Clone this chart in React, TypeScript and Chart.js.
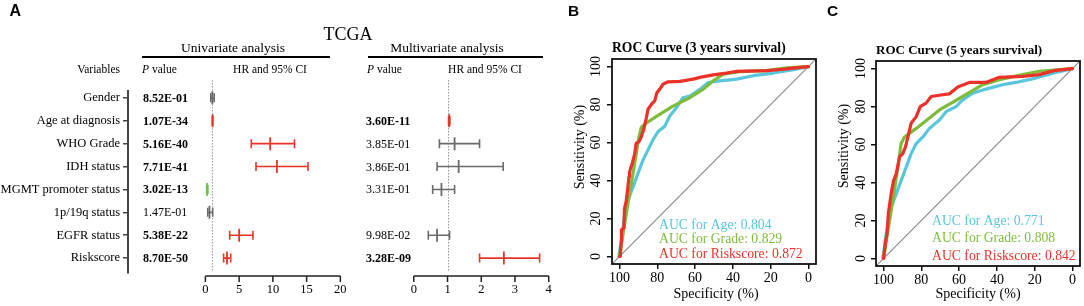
import React, { useEffect, useRef } from "react";
import { Chart, registerables } from "chart.js";
Chart.register(...registerables);

// ---------------- Panel A data ----------------
const variables = ["Gender", "Age at diagnosis", "WHO Grade", "IDH status", "MGMT promoter status", "1p/19q status", "EGFR status", "Riskscore"];
const uniP = ["8.52E-01", "1.07E-34", "5.16E-40", "7.71E-41", "3.02E-13", "1.47E-01", "5.38E-22", "8.70E-50"];
const uniPBold = [true, true, true, true, true, false, true, true];
const uniHR = [1.03, 1.06, 9.6, 10.6, 0.26, 0.6, 5.0, 3.2];
const uniLow = [0.8, 1.05, 6.8, 7.5, 0.18, 0.35, 3.6, 2.7];
const uniHigh = [1.3, 1.07, 13.2, 15.2, 0.37, 1.08, 7.05, 3.75];
const uniClass = ["ns", "up", "up", "up", "down", "ns", "up", "up"];
const multiP = ["", "3.60E-11", "3.85E-01", "3.86E-01", "3.31E-01", "", "9.98E-02", "3.28E-09"];
const multiPBold = [false, true, false, false, false, false, false, true];
const multiHR: (number | null)[] = [null, 1.05, 1.21, 1.33, 0.82, null, 0.69, 2.67];
const multiLow: (number | null)[] = [null, 1.03, 0.76, 0.69, 0.56, null, 0.43, 1.95];
const multiHigh: (number | null)[] = [null, 1.07, 1.95, 2.65, 1.21, null, 1.06, 3.73];
const multiClass = ["", "up", "ns", "ns", "ns", "", "ns", "up"];
const uniTicks = [0, 5, 10, 15, 20];
const multiTicks = [0, 1, 2, 3, 4];

// ---------------- ROC data (specificity %, sensitivity %) ----------------
const rocTicks = [0, 20, 40, 60, 80, 100];
const diagonal = [[104, -4], [-4, 104]];
const roc3Risk = [[100, 0], [99.6, 0], [99.1, 8], [99, 14], [98.2, 14.5], [97.7, 15], [97.4, 25], [96.5, 29], [95.6, 36.5], [95, 42], [94.7, 44.5], [93.3, 49], [92, 54], [91.2, 59.6], [89.7, 60.5], [88.5, 63], [87.3, 66.7], [85.8, 73], [85, 77.4], [83.2, 80], [81.4, 81.9], [80.2, 86.3], [78.8, 88], [77, 90.7], [74.3, 92], [68, 92.2], [61, 93.4], [57.5, 94.3], [50.4, 95.6], [43.4, 96.6], [38, 97.5], [22, 97.9], [11.5, 98.8], [4.4, 99.6], [0, 100]];
const roc3Grade = [[100, 0], [98.2, 11.6], [96.5, 22], [94.7, 33], [92.9, 43.6], [91.2, 54], [89.7, 63], [88.5, 68], [85.8, 70.3], [80.5, 73.8], [71.7, 79.2], [62.8, 83.6], [55.8, 88], [50.4, 92.5], [45.1, 96], [36.3, 97.3], [22, 97.9], [11.5, 99.3], [0, 100]];
const roc3Age = [[100.4, 0], [99.1, 8], [97.3, 22], [95.6, 29.4], [92.9, 36.5], [90.3, 43.6], [87.6, 50.7], [85, 56], [82.3, 61.4], [79.6, 65.8], [76.1, 68.5], [73.5, 73.8], [69.9, 78.3], [66.4, 83.6], [62.8, 84.5], [57.5, 88], [53.1, 91.6], [46.9, 92.5], [38, 93.4], [29.2, 95.2], [18.6, 96.6], [8, 98.4], [0, 100]];
const roc5Risk = [[100, 0], [98.9, 9.2], [98.2, 12.7], [97.5, 23.4], [96, 34], [94.7, 41], [93.3, 44.6], [91.5, 53.5], [89.8, 55.2], [88.4, 58.8], [87.1, 64], [85.4, 71.2], [82.7, 74.7], [80.6, 80], [77.5, 81.8], [74.8, 85.3], [68.7, 86.2], [65.1, 86.7], [60.7, 90.3], [54.6, 92.7], [45.8, 92.7], [38.7, 95.4], [26.4, 95.9], [17.6, 96.8], [8.8, 99.1], [0, 100]];
const roc5Grade = [[100, 0], [97.7, 14.5], [95.1, 30.4], [92.4, 48.1], [90.7, 60.5], [88.9, 64], [82.7, 68.5], [70.4, 78.2], [58.1, 85.3], [47.5, 91.5], [38.7, 94.2], [26.4, 96.8], [17.6, 98.6], [0, 100]];
const roc5Age = [[100.4, 0], [98.6, 12.7], [96, 26.9], [93.3, 34], [90.7, 41], [88, 48.1], [85.4, 55.2], [82.7, 60.5], [79.2, 64], [75.7, 68.5], [70.4, 72.9], [66.9, 77.3], [61.6, 80], [58.1, 83.5], [52.8, 87], [45.8, 89.2], [37, 91.5], [30, 92.7], [19.4, 95], [8.8, 98], [0, 100]];
const auc3 = ["AUC for Age: 0.804", "AUC for Grade: 0.829", "AUC for Riskscore: 0.872"];
const auc5 = ["AUC for Age: 0.771", "AUC for Grade: 0.808", "AUC for Riskscore: 0.842"];

const SERIF = "'Liberation Serif', 'Times New Roman', serif";
const SANS = "'Liberation Sans', Arial, sans-serif";
const RED = "#ec3228";
const GRAY = "#6a6a6a";
const GREEN = "#6fc24a";
const CYAN = "#5ac6dc";
const LGREEN = "#7fbc3c";
const classColor: Record<string, string> = { up: RED, ns: GRAY, down: GREEN };

function txt(ctx: CanvasRenderingContext2D, s: string, x: number, y: number, font: string, align: CanvasTextAlign = "left", color = "#000") {
  ctx.save();
  ctx.font = font;
  ctx.fillStyle = color;
  ctx.textAlign = align;
  ctx.textBaseline = "alphabetic";
  ctx.fillText(s, x, y);
  ctx.restore();
}

function pValueHeader(ctx: CanvasRenderingContext2D, x: number, y: number) {
  ctx.save();
  ctx.fillStyle = "#000";
  ctx.textBaseline = "alphabetic";
  ctx.textAlign = "left";
  ctx.font = `italic 11.5px ${SERIF}`;
  ctx.fillText("P", x, y);
  const w = ctx.measureText("P").width;
  ctx.font = `11.5px ${SERIF}`;
  ctx.fillText(" value", x + w, y);
  ctx.restore();
}

const forestPlugin = {
  id: "forestDecor",
  beforeDatasetsDraw(chart: any) {
    const ctx = chart.ctx as CanvasRenderingContext2D;
    ctx.save();
    ctx.strokeStyle = "#9a9a9a";
    ctx.lineWidth = 1;
    ctx.setLineDash([1.5, 1.5]);
    for (const s of [chart.scales.x, chart.scales.x2]) {
      const px = Math.round(s.getPixelForValue(1)) + 0.5;
      ctx.beginPath();
      ctx.moveTo(px, 80);
      ctx.lineTo(px, 272);
      ctx.stroke();
    }
    ctx.restore();
  },
  afterDraw(chart: any) {
    const ctx = chart.ctx as CanvasRenderingContext2D;
    const xs = chart.scales.x;
    const x2 = chart.scales.x2;
    const ys = chart.scales.y;
    const axisY = 276;
    const drawAxis = (s: any, ticks: number[]) => {
      ctx.save();
      ctx.strokeStyle = "#222";
      ctx.lineWidth = 1.5;
      ctx.beginPath();
      ctx.moveTo(s.getPixelForValue(ticks[0]), axisY);
      ctx.lineTo(s.getPixelForValue(ticks[ticks.length - 1]), axisY);
      for (const t of ticks) {
        const px = s.getPixelForValue(t);
        ctx.moveTo(px, axisY);
        ctx.lineTo(px, axisY + 6);
      }
      ctx.stroke();
      ctx.restore();
      for (const t of ticks) txt(ctx, String(t), s.getPixelForValue(t), 293, `12.5px ${SERIF}`, "center");
    };
    drawAxis(xs, uniTicks);
    drawAxis(x2, multiTicks);

    txt(ctx, "A", 9.5, 16, `bold 16px ${SANS}`);
    txt(ctx, "TCGA", 348, 40, `18px ${SERIF}`, "center");
    txt(ctx, "Univariate analysis", 233, 52, `13.5px ${SERIF}`, "center");
    txt(ctx, "Multivariate analysis", 447, 52, `13.5px ${SERIF}`, "center");
    ctx.save();
    ctx.strokeStyle = "#000";
    ctx.lineWidth = 2;
    ctx.beginPath();
    ctx.moveTo(142, 57);
    ctx.lineTo(330, 57);
    ctx.moveTo(368, 57);
    ctx.lineTo(543, 57);
    ctx.stroke();
    ctx.restore();
    txt(ctx, "Variables", 120, 72.5, `11.5px ${SERIF}`, "right");
    pValueHeader(ctx, 142, 72.5);
    pValueHeader(ctx, 367, 72.5);
    txt(ctx, "HR and 95% CI", 270, 72.5, `11.5px ${SERIF}`, "center");
    txt(ctx, "HR and 95% CI", 485, 72.5, `11.5px ${SERIF}`, "center");

    variables.forEach((_, i) => {
      const y = ys.getPixelForValue(i) + 4;
      txt(ctx, uniP[i], 143, y, `${uniPBold[i] ? "bold " : ""}12px ${SERIF}`);
      if (multiP[i]) txt(ctx, multiP[i], 366, y, `${multiPBold[i] ? "bold " : ""}12px ${SERIF}`);
    });
  },
};

function ciDataset(lo: number, hi: number, row: number, color: string, axis: string) {
  return {
    data: [{ x: lo, y: row }, { x: hi, y: row }],
    xAxisID: axis,
    yAxisID: "y",
    showLine: true,
    borderColor: color,
    borderWidth: 1.6,
    pointStyle: "line",
    pointRotation: 90,
    pointRadius: 4.5,
    pointHoverRadius: 4.5,
    pointBorderColor: color,
    pointBorderWidth: 1.6,
    pointBackgroundColor: color,
  };
}

function forestConfig(): any {
  const datasets: any[] = [];
  variables.forEach((_, i) => {
    datasets.push(ciDataset(uniLow[i], uniHigh[i], i, classColor[uniClass[i]], "x"));
  });
  datasets.push({
    data: uniHR.map((v, i) => ({ x: v, y: i })),
    xAxisID: "x",
    yAxisID: "y",
    showLine: false,
    pointStyle: "line",
    pointRotation: 90,
    pointRadius: 6.5,
    pointHoverRadius: 6.5,
    pointBorderWidth: 1.8,
    pointBorderColor: uniClass.map((c) => classColor[c]),
  });
  const mIdx = variables.map((_, i) => i).filter((i) => multiHR[i] !== null);
  mIdx.forEach((i) => {
    datasets.push(ciDataset(multiLow[i] as number, multiHigh[i] as number, i, classColor[multiClass[i]], "x2"));
  });
  datasets.push({
    data: mIdx.map((i) => ({ x: multiHR[i], y: i })),
    xAxisID: "x2",
    yAxisID: "y",
    showLine: false,
    pointStyle: "line",
    pointRotation: 90,
    pointRadius: 6.5,
    pointHoverRadius: 6.5,
    pointBorderWidth: 1.8,
    pointBorderColor: mIdx.map((i) => classColor[multiClass[i]]),
  });
  return {
    type: "scatter",
    data: { datasets },
    options: {
      animation: false,
      responsive: false,
      devicePixelRatio: 1,
      layout: { padding: { left: 0, top: 91, right: 5, bottom: 33 } },
      plugins: { legend: { display: false }, tooltip: { enabled: false } },
      events: [],
      scales: {
        x: { type: "linear", min: -11.47, max: 51.32, display: false },
        x2: { type: "linear", min: -8.4706, max: 4.088, display: false, position: "bottom" },
        y: {
          type: "linear",
          reverse: true,
          min: -0.3,
          max: 7.65,
          position: "left",
          afterFit: (s: any) => {
            s.width = 128;
          },
          afterBuildTicks: (s: any) => {
            s.ticks = variables.map((_, i) => ({ value: i }));
          },
          ticks: {
            callback: (v: any) => variables[v as number],
            font: { family: SERIF, size: 12.5 },
            color: "#000",
            padding: 3,
            autoSkip: false,
          },
          grid: { drawOnChartArea: false, drawTicks: true, tickLength: 5, color: "#444", lineWidth: 1.5 },
          border: { display: true, color: "#444", width: 2 },
        },
      },
    },
    plugins: [forestPlugin],
  };
}

interface RocLayout {
  letter: string;
  letterX: number;
  title: string;
  titleY: number;
  titleSize: number;
  yLabelX: number;
  yTitleX: number;
  yTitleY: number;
  xTitleX: number;
  xTitleY: number;
  aucX: number;
  aucY: number[];
}

function rocPlugin(L: RocLayout, aucs: string[]) {
  return {
    id: "rocDecor" + L.letter,
    afterDraw(chart: any) {
      const ctx = chart.ctx as CanvasRenderingContext2D;
      const a = chart.chartArea;
      const ys = chart.scales.y;
      ctx.save();
      ctx.strokeStyle = "#111";
      ctx.lineWidth = 1.8;
      ctx.strokeRect(a.left, a.top, a.right - a.left, a.bottom - a.top);
      ctx.restore();
      for (const t of rocTicks) {
        ctx.save();
        ctx.translate(L.yLabelX, ys.getPixelForValue(t));
        ctx.rotate(-Math.PI / 2);
        ctx.font = `14px ${SERIF}`;
        ctx.fillStyle = "#000";
        ctx.textAlign = "center";
        ctx.textBaseline = "alphabetic";
        ctx.fillText(String(t), 0, 0);
        ctx.restore();
      }
      ctx.save();
      ctx.translate(L.yTitleX, L.yTitleY);
      ctx.rotate(-Math.PI / 2);
      ctx.font = `14px ${SERIF}`;
      ctx.fillStyle = "#000";
      ctx.textAlign = "center";
      ctx.fillText("Sensitivity (%)", 0, 0);
      ctx.restore();
      txt(ctx, "Specificity (%)", L.xTitleX, L.xTitleY, `14px ${SERIF}`, "center");
      txt(ctx, L.title, a.left, L.titleY, `bold ${L.titleSize}px ${SERIF}`);
      txt(ctx, L.letter, L.letterX, 16, `bold 15.5px ${SANS}`);
      const cols = [CYAN, LGREEN, RED];
      aucs.forEach((s, i) => txt(ctx, s, L.aucX, L.aucY[i], `13.7px ${SERIF}`, "left", cols[i]));
    },
  };
}

const toXY = (arr: number[][]) => arr.map(([x, y]) => ({ x, y }));

function rocConfig(risk: number[][], grade: number[][], age: number[][], aucs: string[], L: RocLayout, pad: { top: number; right: number }, yWidth: number, xHeight: number): any {
  const line = (d: number[][], color: string, w: number) => ({
    data: toXY(d),
    showLine: true,
    borderColor: color,
    borderWidth: w,
    pointRadius: 0,
    pointHoverRadius: 0,
    borderCapStyle: "round",
    borderJoinStyle: "round",
    tension: 0,
  });
  return {
    type: "scatter",
    data: {
      datasets: [line(risk, RED, 3.2), line(grade, LGREEN, 3.2), line(age, CYAN, 3.2), line(diagonal, "#8c8c8c", 1.2)],
    },
    options: {
      animation: false,
      responsive: false,
      devicePixelRatio: 1,
      events: [],
      layout: { padding: { left: 0, top: pad.top, right: pad.right, bottom: 0 } },
      plugins: { legend: { display: false }, tooltip: { enabled: false } },
      scales: {
        x: {
          type: "linear",
          reverse: true,
          min: -4,
          max: 104,
          position: "bottom",
          afterFit: (s: any) => {
            s.height = xHeight;
          },
          afterBuildTicks: (s: any) => {
            s.ticks = rocTicks.map((v) => ({ value: v }));
          },
          ticks: { font: { family: SERIF, size: 14 }, color: "#000", padding: 1, maxRotation: 0, autoSkip: false },
          grid: { drawOnChartArea: false, drawTicks: true, tickLength: 5, color: "#111", lineWidth: 1.5 },
          border: { display: false },
        },
        y: {
          type: "linear",
          min: -4,
          max: 104,
          position: "left",
          afterFit: (s: any) => {
            s.width = yWidth;
          },
          afterBuildTicks: (s: any) => {
            s.ticks = rocTicks.map((v) => ({ value: v }));
          },
          ticks: { display: false },
          grid: { drawOnChartArea: false, drawTicks: true, tickLength: 5, color: "#111", lineWidth: 1.5 },
          border: { display: false },
        },
      },
    },
    plugins: [rocPlugin(L, aucs)],
  };
}

export default function App() {
  const aRef = useRef<HTMLCanvasElement>(null);
  const bRef = useRef<HTMLCanvasElement>(null);
  const cRef = useRef<HTMLCanvasElement>(null);
  useEffect(() => {
    const charts: Chart[] = [];
    charts.push(new Chart(aRef.current as HTMLCanvasElement, forestConfig()));
    charts.push(
      new Chart(
        bRef.current as HTMLCanvasElement,
        rocConfig(
          roc3Risk, roc3Grade, roc3Age, auc3,
          {
            letter: "B", letterX: 8, title: "ROC Curve (3 years survival)", titleY: 52, titleSize: 13.6,
            yLabelX: 40, yTitleX: 24, yTitleY: 147, xTitleX: 156, xTitleY: 297.5,
            aucX: 99, aucY: [229, 243, 257.5],
          },
          { top: 59, right: 14 }, 52, 42
        )
      )
    );
    charts.push(
      new Chart(
        cRef.current as HTMLCanvasElement,
        rocConfig(
          roc5Risk, roc5Grade, roc5Age, auc5,
          {
            letter: "C", letterX: 7, title: "ROC Curve (5 years survival)", titleY: 53.5, titleSize: 13,
            yLabelX: 45, yTitleX: 28, yTitleY: 146, xTitleX: 158, xTitleY: 298,
            aucX: 112, aucY: [224.5, 242, 259.5],
          },
          { top: 61, right: 4 }, 56, 40
        )
      )
    );
    return () => charts.forEach((c) => c.destroy());
  }, []);
  const cv = (left: number, w: number): React.CSSProperties => ({ position: "absolute", left, top: 0, width: w, height: 306 });
  return (
    <div style={{ position: "absolute", left: 0, top: 0, width: 1084, height: 306, background: "#fff", overflow: "hidden" }}>
      <canvas ref={aRef} width={560} height={306} style={cv(0, 560)} />
      <canvas ref={bRef} width={270} height={306} style={cv(560, 270)} />
      <canvas ref={cRef} width={264} height={306} style={cv(820, 264)} />
    </div>
  );
}
